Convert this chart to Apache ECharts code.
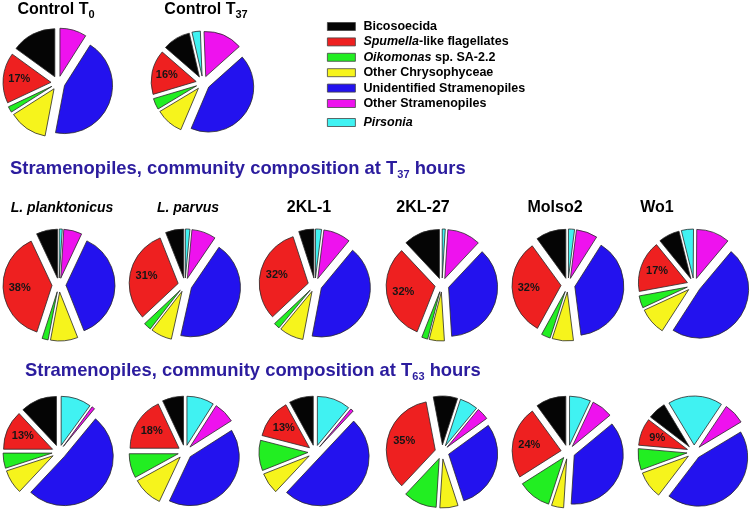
<!DOCTYPE html>
<html><head><meta charset="utf-8">
<script src="https://cdn.jsdelivr.net/npm/echarts@6/dist/echarts.min.js"></script>
<style>html,body{margin:0;padding:0;background:#fff}#c{width:752px;height:513px}</style>
</head><body><div id="c"></div>
<script>
// ---------- DATA ----------
const categories = ['Bicosoecida','Spumella-like flagellates','Oikomonas sp. SA-2.2','Other Chrysophyceae','Unidentified Stramenopiles','Other Stramenopiles','Pirsonia'];
const strainNames = ['L. planktonicus','L. parvus','2KL-1','2KL-27','Molso2','Wo1'];
// percentages, in category order
const controlT0 = [15,17,2,13,44,9,0];
const controlT37 = [10,16,4,10,43,14,3];
const t37_Lplanktonicus = [7,38,2,9,37,6,1];
const t37_Lparvus = [6,31,2.5,7,44,8,1.5];
const t37_2KL1 = [5,32,2,8,42,9,2];
const t37_2KL27 = [12,32,2,5,37,11,1];
const t37_Molso2 = [10,32,3,7,39,7,2];
const t37_Wo1 = [7,17,4,9,48,11,4];
const t63_Lplanktonicus = [12,13,5,8,51,1,10];
const t63_Lparvus = [7,18,8,10,41,7,9];
const t63_2KL1 = [8,13,10,7,50,1,11];
const t63_2KL27 = [8,35,11,6,30,4,6];
const t63_Molso2 = [10,24,11,4,37,7,7];
const t63_Wo1 = [6,9,7,9,44,7,18];

// ---------- STYLE / LAYOUT ----------
const colors = ['#050505','#ee2020','#22ee22','#f6f41c','#2312ee','#ee12ee','#40f2f2'];
const FONT = '"Liberation Sans", Arial, sans-serif';
const TITLE_BLUE = '#2b1c9e';
const t37Sets = [t37_Lplanktonicus,t37_Lparvus,t37_2KL1,t37_2KL27,t37_Molso2,t37_Wo1];
const t63Sets = [t63_Lplanktonicus,t63_Lparvus,t63_2KL1,t63_2KL27,t63_Molso2,t63_Wo1];
const colX = [59,185,315,442,568,694];
const t37Start = [90,90,90,90,90,104];
const t63Start = [90,90,90,72,90,121];

const pies = [
  {values: controlT0, cx: 58, cy: 83, r: 48, start: 90},
  {values: controlT37, cx: 203, cy: 83, r: 45, start: 103}
];
t37Sets.forEach((v,i)=>pies.push({values:v, cx:colX[i], cy:285, r:49, start:t37Start[i]}));
t63Sets.forEach((v,i)=>pies.push({values:v, cx:colX[i], cy:452, r:49, start:t63Start[i]}));
const OFFSET = 7;

const mainSeries = [], labelSeries = [];
pies.forEach((p, k) => {
  const base = {
    type: 'pie', center: [p.cx, p.cy], startAngle: p.start, clockwise: false,
    selectedMode: 'multiple', selectedOffset: OFFSET, avoidLabelOverlap: false,
    emphasis: {disabled: true}, animation: false, labelLine: {show: false}
  };
  mainSeries.push(Object.assign({}, base, {
    name: 'pie' + k, radius: [0, p.r],
    itemStyle: {borderColor: '#2a2a2a', borderWidth: 0.8},
    label: {show: false},
    data: categories.map((c,i)=>({name:c, value:p.values[i], selected:true, itemStyle:{color:colors[i]}})).filter(d=>d.value>0)
  }));
  labelSeries.push(Object.assign({}, base, {
    name: 'lab' + k, radius: [0, p.r * 1.2], silent: true, z: 5,
    itemStyle: {color: 'rgba(0,0,0,0)', borderWidth: 0},
    label: {show: false},
    data: categories.map((c,i)=>({name:c, value:p.values[i], selected:true,
      label: i===1 ? {show:true, position:'inside', formatter:'{c}%', color:'#151515', fontSize:11, fontWeight:'bold', fontFamily:FONT} : {show:false}
    })).filter(d=>d.value>0)
  }));
});

const italicNames = {
  'Spumella-like flagellates': '{i|Spumella}-like flagellates',
  'Oikomonas sp. SA-2.2': '{i|Oikomonas} sp. SA-2.2',
  'Pirsonia': '{i|Pirsonia}'
};

const graphics = [];
function controlTitle(sub, x) {
  return {type:'text', x:x, y:10, silent:true, style:{text:'{b|Control T}{s|' + sub + '}', align:'center', verticalAlign:'middle',
    rich:{b:{fontSize:16, fontWeight:'bold', fontFamily:FONT, lineHeight:20, fill:'#000'}, s:{fontSize:11, fontWeight:'bold', fontFamily:FONT, lineHeight:11, verticalAlign:'bottom', fill:'#000'}}}};
}
graphics.push(controlTitle('0', 56));
graphics.push(controlTitle('37', 206));
function sectionTitle(sub, x, y) {
  return {type:'text', x:x, y:y, silent:true, style:{text:'{b|Stramenopiles, community composition at T}{s|' + sub + '}{b| hours}', align:'left', verticalAlign:'middle',
    rich:{b:{fontSize:18.4, fontWeight:'bold', fontFamily:FONT, lineHeight:23, fill:TITLE_BLUE}, s:{fontSize:11, fontWeight:'bold', fontFamily:FONT, lineHeight:11, verticalAlign:'bottom', fill:TITLE_BLUE}}}};
}
graphics.push(sectionTitle('37', 10, 169));
graphics.push(sectionTitle('63', 25, 371));
const labelX = [62,188,309,423,555,657];
strainNames.forEach((n,i)=>{
  const italic = i < 2;
  graphics.push({type:'text', x:labelX[i], y:208, silent:true, style:{text:n, align:'center', verticalAlign:'middle',
    fontFamily:FONT, fontSize: italic ? 14 : 16, fontWeight:'bold', fontStyle: italic ? 'italic' : 'normal', fill:'#000'}});
});

const legendBase = {
  orient: 'vertical', left: 327, itemWidth: 28, itemHeight: 8, itemGap: 2.4, padding: 0,
  icon: 'rect', selectedMode: false,
  formatter: n => italicNames[n] || n,
  textStyle: {fontFamily:FONT, fontSize:12.5, fontWeight:'bold', color:'#000', padding:[0,0,0,3],
    rich:{i:{fontFamily:FONT, fontSize:12.5, fontWeight:'bold', fontStyle:'italic', color:'#000'}}}
};
const legendItems = categories.map((c,i)=>({name:c, itemStyle:{color:colors[i], borderColor:'#444', borderWidth:0.8}}));

const option = {
  animation: false,
  backgroundColor: '#fff',
  legend: [
    Object.assign({}, legendBase, {top: 20, data: legendItems.slice(0, 6)}),
    Object.assign({}, legendBase, {top: 116, data: legendItems.slice(6)})
  ],
  graphic: graphics,
  series: mainSeries.concat(labelSeries)
};
const chart = echarts.init(document.getElementById('c'));
chart.setOption(option);
</script></body></html>
